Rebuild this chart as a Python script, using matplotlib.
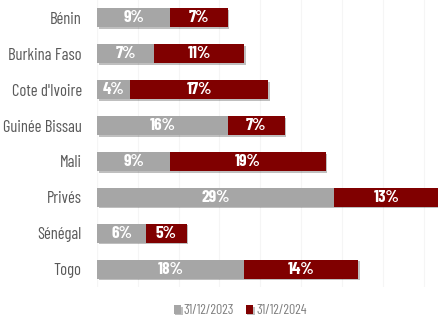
import matplotlib
matplotlib.use("Agg")
import matplotlib.pyplot as plt
import matplotlib.patheffects as pe
from matplotlib.font_manager import fontManager

names = {f.name for f in fontManager.ttflist}
family = next((n for n in ["Barlow Condensed", "Barlow Semi Condensed", "Asap Condensed", "Archivo Narrow"] if n in names), "DejaVu Sans")
plt.rcParams['font.family'] = [family, 'DejaVu Sans']

categories = ["Bénin", "Burkina Faso", "Cote d'Ivoire", "Guinée Bissau", "Mali", "Privés", "Sénégal", "Togo"]
v2023 = [9, 7, 4, 16, 9, 29, 6, 18]
v2024 = [7, 11, 17, 7, 19, 13, 5, 14]
series_labels = ["31/12/2023", "31/12/2024"]
colors = ["#A6A6A6", "#800000"]

fig = plt.figure(figsize=(4.39, 3.16), dpi=100)
ax = fig.add_axes([97/439, 29/316, 343/439, 287/316])

y = list(range(len(categories)))
shadow = [pe.SimplePatchShadow(offset=(1.2, -1.2), shadow_rgbFace='#000000', alpha=0.25), pe.Normal()]
b1 = ax.barh(y, v2023, height=0.53, color=colors[0], label=series_labels[0], zorder=3)
b2 = ax.barh(y, v2024, left=v2023, height=0.53, color=colors[1], label=series_labels[1], zorder=3)
for b in list(b1) + list(b2):
    b.set_path_effects(shadow)

for i in y:
    ax.text(v2023[i] / 2, i, f"{v2023[i]}%", ha='center', va='center', color='white',
            fontsize=12.5, fontweight='bold', zorder=4)
    ax.text(v2023[i] + v2024[i] / 2, i, f"{v2024[i]}%", ha='center', va='center', color='white',
            fontsize=12.5, fontweight='bold', zorder=4)

ax.set_xlim(0, 42)
ax.set_ylim(len(categories) - 0.5, -0.5)
ax.set_yticks(y)
ax.set_yticklabels(categories, fontsize=12, color='#595959')
ax.tick_params(axis='y', length=0, pad=11)
ax.set_xticks(range(0, 45, 5))
ax.tick_params(axis='x', length=0, labelbottom=False)
ax.grid(axis='x', color='#F5F5F5', linewidth=0.8, zorder=0)
for s in ax.spines.values():
    s.set_visible(False)
ax.axvline(0, color='#EDEDED', linewidth=0.8, zorder=1)

fig.legend(handles=[b1, b2], labels=series_labels, loc='center', bbox_to_anchor=(240/439, 1 - 311/316),
           ncol=2, frameon=False, fontsize=10, labelcolor='#7F7F7F', handlelength=0.55, handleheight=0.55,
           handletextpad=0.2, columnspacing=0.8)

fig.savefig("out.png", dpi=100)
